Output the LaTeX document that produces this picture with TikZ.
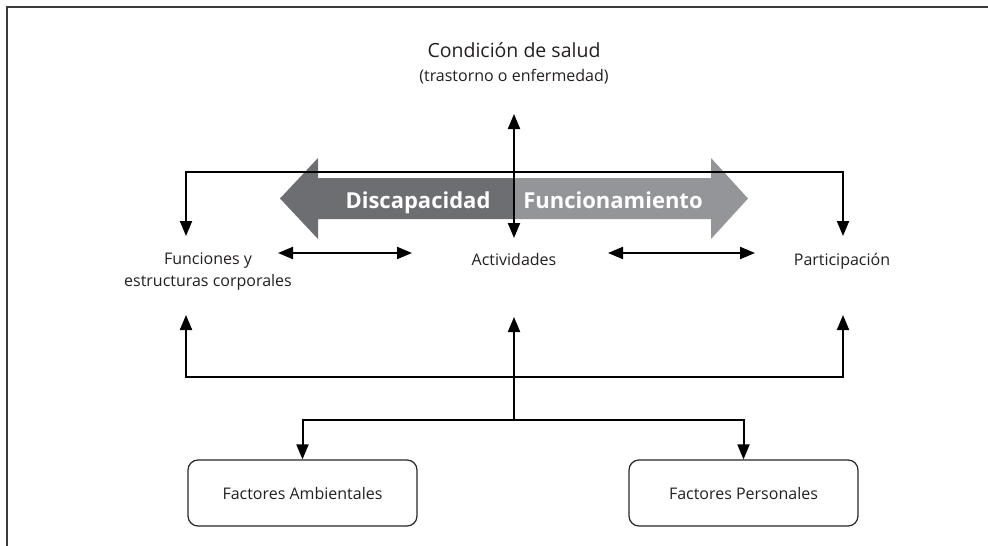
\documentclass[tikz,border=0pt]{standalone}
\usepackage{fontspec}
\setmainfont{Open Sans}
\usetikzlibrary{arrows.meta}
\definecolor{txt}{HTML}{231F20}
\definecolor{darkarr}{HTML}{6D6E71}
\definecolor{lightarr}{HTML}{939598}
\definecolor{frame}{HTML}{3A3A3A}
\begin{document}
\begin{tikzpicture}[x=1pt,y=-1pt,
  lbl/.style={font=\fontsize{16}{22}\selectfont, text=txt, inner sep=0pt, align=center},
  tip/.style={Triangle[length=15pt,width=12pt]},
  conn/.style={line width=2pt, draw=black, -{Triangle[length=15pt,width=12pt]}},
  conntwo/.style={line width=2pt, draw=black, {Triangle[length=15pt,width=12pt]}-{Triangle[length=15pt,width=12pt]}},
  boxnode/.style={draw=black!85, line width=1.2pt, rounded corners=10pt, minimum width=229pt, minimum height=66pt, inner sep=0pt, font=\fontsize{16}{20}\selectfont, text=txt},
  bigtxt/.style={font=\bfseries\fontsize{22}{26}\selectfont, text=white, inner sep=0pt, anchor=base}
]
\useasboundingbox (0,0) rectangle (988,546);
% open frame
\draw[line width=2.2pt, draw=frame] (988,7) -- (7,7) -- (7,546);

% big double arrow
\fill[darkarr] (514,178) -- (318,178) -- (318,158) -- (280,198.5) -- (318,239) -- (318,219) -- (514,219) -- cycle;
\fill[lightarr] (514,178) -- (711,178) -- (711,158) -- (748,198.5) -- (711,239) -- (711,219) -- (514,219) -- cycle;
\node[bigtxt] (dis) at (418,208) {Discapacidad};
\node[bigtxt] (fun) at (613,208) {Funcionamiento};

% texts
\node[font=\fontsize{19.5}{22}\selectfont, text=txt, inner sep=0pt, anchor=base] (cond) at (514,57) {Condición de salud};
\node[lbl, anchor=base] (condsub) at (514,81) {(trastorno o enfermedad)};
\node[lbl] (func) at (208,272) {Funciones y\\estructuras corporales};
\node[lbl, anchor=base] (act) at (514,265) {Actividades};
\node[lbl, anchor=base] (par) at (842,265) {Participación};

\node[boxnode] (fa) at (302.5,493) {Factores Ambientales};
\node[boxnode] (fp) at (743.5,493) {Factores Personales};

% coordinates for connector ends
\coordinate (ctop) at (514,114);
\coordinate (cbot) at (514,238);
\coordinate (tl) at (186,236);
\coordinate (tm) at (514,172);
\coordinate (tr) at (843,236);
\coordinate (bl) at (186,315);
\coordinate (bm) at (514,377);
\coordinate (br) at (843,315);
\coordinate (cup) at (514,317);
\coordinate (cj) at (514,420);
\coordinate (al) at (278,253);
\coordinate (ar) at (412,253);
\coordinate (pl) at (608,253);
\coordinate (pr) at (755,253);

% connectors
\draw[conntwo] (ctop) -- (cbot);
\draw[conntwo] (tl) |- (tm) -| (tr);
\draw[conntwo] (bl) |- (bm) -| (br);
\draw[conn] (cj) -- (cup);
\draw[conntwo] (fa.north) |- (cj) -| (fp.north);
\draw[conntwo] (al) -- (ar);
\draw[conntwo] (pl) -- (pr);
\end{tikzpicture}
\end{document}
